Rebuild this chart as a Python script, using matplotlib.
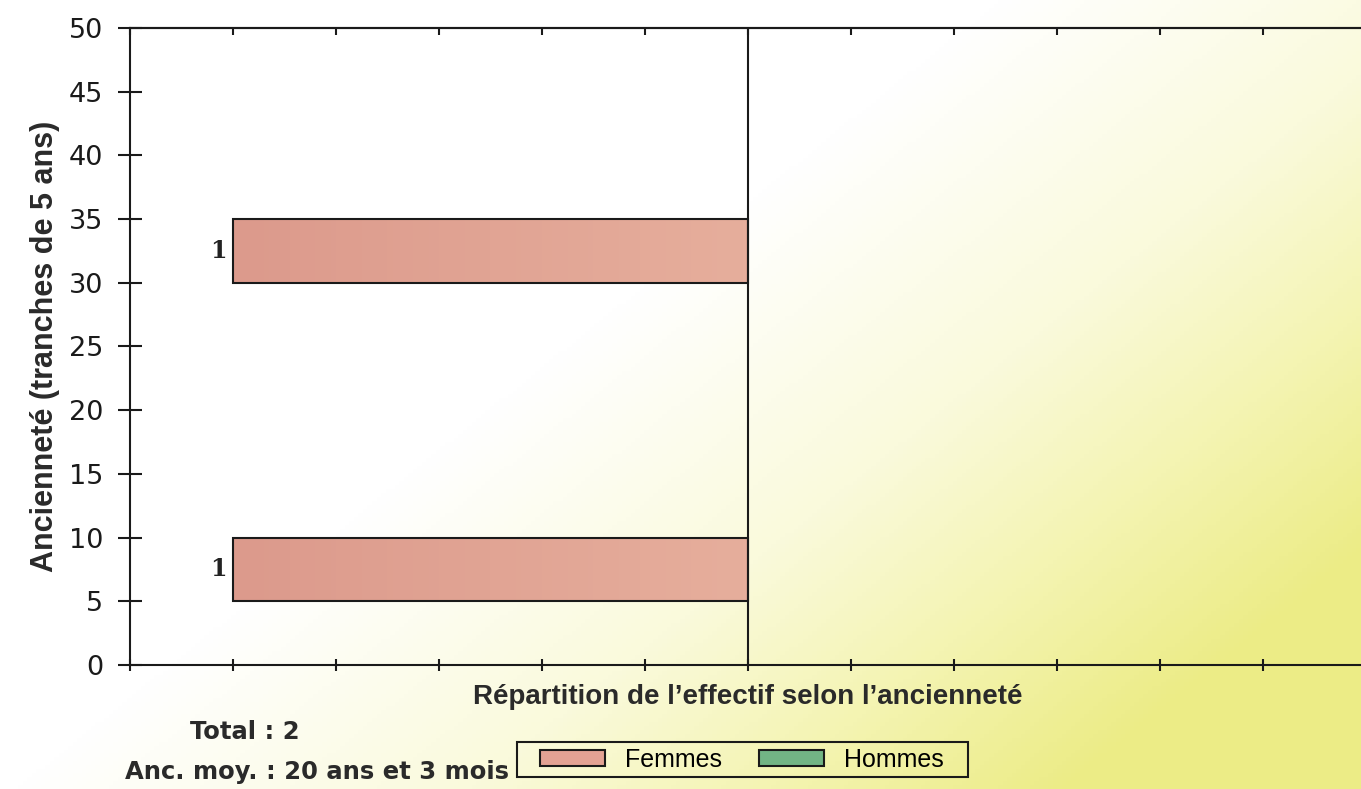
import numpy as np
import matplotlib.pyplot as plt
from matplotlib.colors import LinearSegmentedColormap
from matplotlib.patches import Rectangle

# age bands (lower edge, in years) and headcount per band
bands = [0, 5, 10, 15, 20, 25, 30, 35, 40, 45]
femmes = [0, 1, 0, 0, 0, 0, 1, 0, 0, 0]
hommes = [0, 0, 0, 0, 0, 0, 0, 0, 0, 0]
band_width = 5
yticks = list(range(0, 55, 5))
xticks = [-1.2, -1.0, -0.8, -0.6, -0.4, -0.2, 0.0, 0.2, 0.4, 0.6, 0.8, 1.0, 1.2]

total = sum(femmes) + sum(hommes)
anc_moy = "20 ans et 3 mois"

W, H = 1361, 789
fig = plt.figure(figsize=(W / 100, H / 100), dpi=100)

# scanned-paper background, white to yellow
bg = fig.add_axes([0, 0, 1, 1], zorder=-10)
gx, gy = np.meshgrid(np.linspace(0, 1, 300), np.linspace(0, 1, 200))
t = np.clip(0.9 * gx + 0.65 * gy - 0.36, 0, 1)
bg_cmap = LinearSegmentedColormap.from_list(
    "paper", [(0, "#ffffff"), (0.3, "#ffffff"), (0.6, "#fafadc"),
              (0.8, "#f4f4b2"), (1, "#ecec86")])
bg.imshow(t, cmap=bg_cmap, aspect="auto", extent=(0, 1, 1, 0), vmin=0, vmax=1)
bg.set_xlim(0, 1)
bg.set_ylim(1, 0)
bg.axis("off")

ax = fig.add_axes([130 / W, 1 - 665 / H, 1236 / W, 637 / H])
ax.set_facecolor("none")

bars_f = ax.barh(bands, [-v for v in femmes], height=band_width, align="edge",
                 color="#e3a294", edgecolor="#1a1a1a", linewidth=1.5, zorder=3)
bars_h = ax.barh(bands, hommes, height=band_width, align="edge",
                 color="#72b485", edgecolor="#1a1a1a", linewidth=1.5, zorder=3)

# soft gradient inside the pink bars
grad_cmap = LinearSegmentedColormap.from_list("pink", ["#dc9a8c", "#e6ae9c"])
for b, v in zip(bars_f, femmes):
    if v == 0:
        b.set_visible(False)
        continue
    x0, y0, w, h = b.get_x(), b.get_y(), b.get_width(), b.get_height()
    im = ax.imshow(np.linspace(0, 1, 100).reshape(1, -1), cmap=grad_cmap, aspect="auto",
                   extent=(x0 + w, x0, y0, y0 + h), zorder=2.5)
    im.set_clip_path(b)
    b.set_facecolor("none")
    ax.text(-v - 0.013, y0 + h / 2, str(v), ha="right", va="center",
            fontsize=17, fontweight="bold", family="DejaVu Serif", color="#222222")
for b, v in zip(bars_h, hommes):
    if v == 0:
        b.set_visible(False)

ax.axvline(0, color="#1a1a1a", linewidth=1.5, zorder=4)

ax.set_xlim(-1.2, 1.2)
ax.set_ylim(0, 50)
ax.set_yticks(yticks)
ax.set_xticks(xticks)
ax.set_xticklabels([])
ax.tick_params(axis="y", direction="inout", length=17, width=1.5, pad=11,
               labelsize=19.5, colors="#1a1a1a")
ax.tick_params(axis="x", direction="inout", length=9, width=1.5, colors="#1a1a1a")
for lab in ax.get_yticklabels():
    lab.set_family("DejaVu Sans")

top = ax.secondary_xaxis("top")
top.set_xticks(xticks)
top.set_xticklabels([])
top.tick_params(direction="in", length=5, width=1.5, colors="#1a1a1a")

for side in ["left", "bottom", "top"]:
    ax.spines[side].set_linewidth(1.5)
    ax.spines[side].set_color("#1a1a1a")
ax.spines["right"].set_visible(False)
top.spines["top"].set_linewidth(1.5)

ax.set_ylabel("Ancienneté (tranches de 5 ans)", fontsize=22, fontweight="bold",
              family="Liberation Sans", color="#2a2a2a", labelpad=6)

fig.text(748 / W, 1 - 697 / H, "Répartition de l\u2019effectif selon l\u2019ancienneté",
         ha="center", va="center", fontsize=20, fontweight="bold",
         family="Liberation Sans", color="#2a2a2a")
fig.text(190 / W, 1 - 732 / H, f"Total : {total}", ha="left", va="center",
         fontsize=17.5, fontweight="bold", family="DejaVu Sans", color="#2a2a2a")
fig.text(125 / W, 1 - 772 / H, f"Anc. moy. : {anc_moy}", ha="left", va="center",
         fontsize=17.5, fontweight="bold", family="DejaVu Sans", color="#2a2a2a")

leg = fig.legend([bars_f[1], bars_h[0]], ["Femmes", "Hommes"], ncol=2,
                 loc="center", bbox_to_anchor=(742 / W, 1 - 760 / H),
                 frameon=False,
                 prop={"family": "Liberation Sans", "size": 18},
                 handlelength=2.6, handleheight=0.6, columnspacing=1.5,
                 borderpad=0.25, handletextpad=0.8)
for h, c in zip(leg.legend_handles, ["#e3a294", "#72b485"]):
    h.set_visible(True)
    h.set_facecolor(c)
    h.set_edgecolor("#1a1a1a")
# legend frame, wider than the entries as in the original
fig.patches.append(Rectangle((517 / W, 1 - 777 / H), 451 / W, 35 / H,
                             transform=fig.transFigure, fill=False,
                             edgecolor="#1a1a1a", linewidth=1.5))

fig.savefig("out.png", dpi=100)
